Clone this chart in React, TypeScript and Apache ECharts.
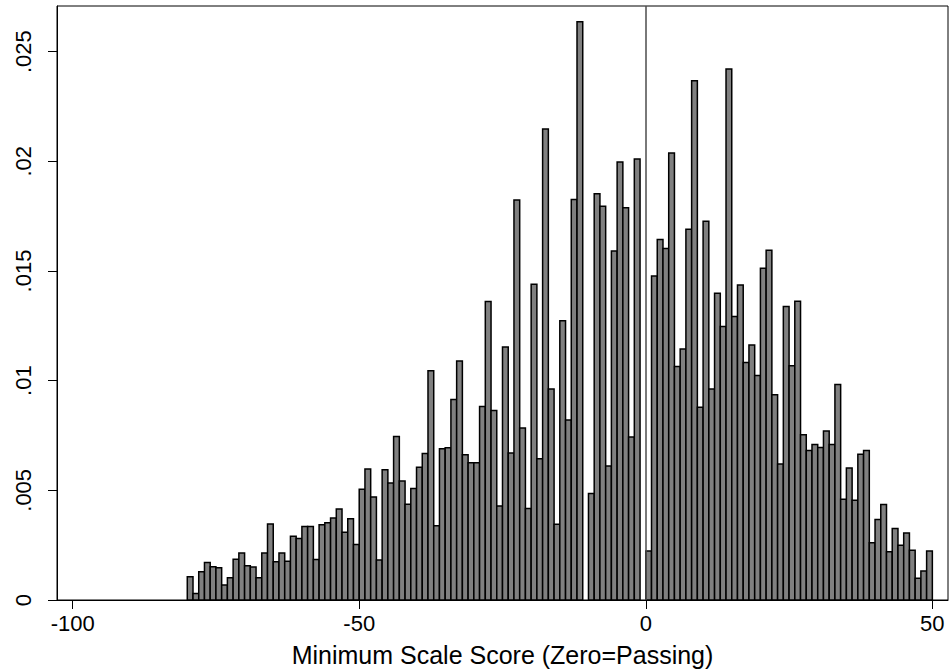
import React, { useEffect, useRef } from "react";
import * as echarts from "echarts";

// Histogram bins: width 1, first bin starts at -80
const binStart = -80;
const binWidth = 1;
// Density per bin (k = -80 ... 49)
const densities = [
  0.00106, 0.0003, 0.00129, 0.00171, 0.00152, 0.00147, 0.00068, 0.00102, 0.00186, 0.00214,
  0.00156, 0.0015, 0.00102, 0.00214, 0.00347, 0.00174, 0.00214, 0.00177, 0.00291, 0.0028,
  0.00335, 0.00335, 0.00185, 0.00343, 0.00352, 0.00374, 0.00415, 0.00309, 0.0037, 0.00253,
  0.00505, 0.00597, 0.0047, 0.00182, 0.00594, 0.00533, 0.00745, 0.00542, 0.00436, 0.00508,
  0.00605, 0.00668, 0.01045, 0.00338, 0.0069, 0.00694, 0.00914, 0.0109, 0.00662, 0.00626,
  0.00626, 0.00882, 0.01361, 0.00864, 0.00429, 0.01153, 0.0067, 0.01823, 0.00784, 0.00417,
  0.0144, 0.00644, 0.02147, 0.00962, 0.00345, 0.01273, 0.00821, 0.01826, 0.02636, 0,
  0.00485, 0.01852, 0.01795, 0.00611, 0.01591, 0.01997, 0.01788, 0.00743, 0.02011, 0,
  0.00223, 0.01477, 0.01644, 0.01602, 0.02038, 0.01064, 0.01144, 0.0169, 0.02367, 0.00879,
  0.01727, 0.00962, 0.01399, 0.01247, 0.02421, 0.01293, 0.01436, 0.01083, 0.01162, 0.01023,
  0.01512, 0.01594, 0.00936, 0.0062, 0.01338, 0.01068, 0.01362, 0.00753, 0.00682, 0.00709,
  0.00695, 0.0077, 0.00709, 0.00982, 0.00459, 0.00602, 0.00455, 0.00665, 0.00682, 0.00261,
  0.00367, 0.00435, 0.0022, 0.00326, 0.0025, 0.00306, 0.00227, 0.00099, 0.00132, 0.00223,
];

const xTicks = [-100, -50, 0, 50];
const yTicks = [0, 0.005, 0.01, 0.015, 0.02, 0.025];
const xTitle = "Minimum Scale Score (Zero=Passing)";

const FONT = "'Liberation Sans', Arial, Helvetica, sans-serif";

export default function App() {
  const ref = useRef<HTMLDivElement>(null);

  useEffect(() => {
    if (!ref.current) return;
    const chart = echarts.init(ref.current, undefined, { renderer: "svg" });
    const data = densities.map((d, i) => [binStart + i * binWidth, d]);

    chart.setOption({
      animation: false,
      backgroundColor: "#ffffff",
      grid: {
        left: 57,
        top: 6,
        width: 891,
        height: 595.7,
        show: true,
        borderColor: "#000",
        borderWidth: 1,
        containLabel: false,
      },
      xAxis: {
        type: "value",
        min: -102.73,
        max: 52.73,
        name: xTitle,
        nameLocation: "middle",
        nameGap: 42,
        nameTextStyle: { fontFamily: FONT, fontSize: 25, color: "#000" },
        axisLine: { show: true, onZero: false, lineStyle: { color: "#000", width: 1 } },
        axisTick: {
          show: true,
          inside: false,
          length: 9,
          customValues: xTicks,
          lineStyle: { color: "#000", width: 1 },
        },
        axisLabel: {
          customValues: xTicks,
          fontFamily: FONT,
          fontSize: 22,
          color: "#000",
          margin: 12,
        },
        splitLine: { show: false },
      },
      yAxis: {
        type: "value",
        min: 0,
        max: 0.02708,
        axisLine: { show: true, onZero: false, lineStyle: { color: "#000", width: 1 } },
        axisTick: {
          show: true,
          inside: false,
          length: 9,
          customValues: yTicks,
          lineStyle: { color: "#000", width: 1 },
        },
        axisLabel: {
          customValues: yTicks,
          rotate: 90,
          fontFamily: FONT,
          fontSize: 22,
          color: "#000",
          margin: 23,
          formatter: (v: number) => (v === 0 ? "0" : String(v).replace(/^0/, "")),
        },
        splitLine: { show: false },
      },
      series: [
        {
          type: "custom",
          data,
          clip: true,
          renderItem: (params: any, api: any) => {
            const x0 = api.value(0);
            const v = api.value(1);
            if (!v) return null;
            const p0 = api.coord([x0, v]);
            const p1 = api.coord([x0 + binWidth, 0]);
            return {
              type: "rect",
              shape: { x: p0[0], y: p0[1], width: p1[0] - p0[0], height: p1[1] - p0[1] },
              style: { fill: "#808080", stroke: "#000", lineWidth: 1.5 },
            };
          },
          markLine: {
            silent: true,
            symbol: "none",
            label: { show: false },
            lineStyle: { color: "#4d4d4d", width: 1.5, type: "solid" },
            data: [{ xAxis: 0 }],
          },
          z: 2,
        },
      ],
    });

    return () => chart.dispose();
  }, []);

  return (
    <div
      ref={ref}
      style={{ position: "absolute", left: 0, top: 0, width: 949, height: 672 }}
    />
  );
}
